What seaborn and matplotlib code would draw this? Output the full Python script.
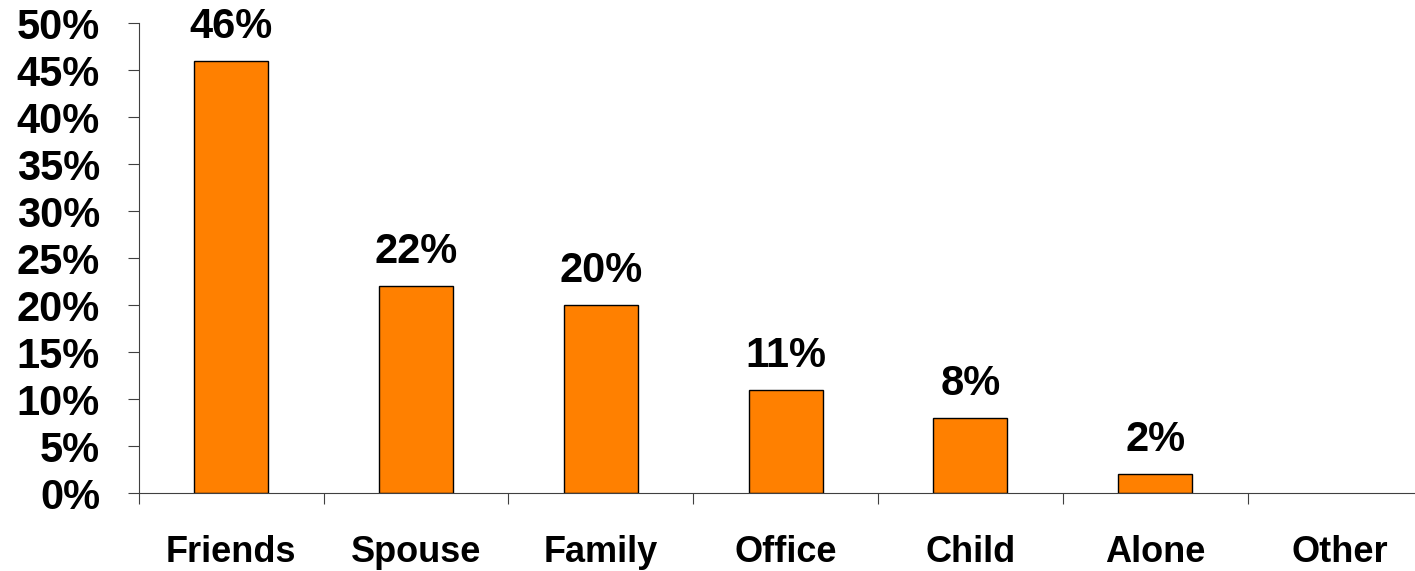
import matplotlib
matplotlib.use('Agg')
import matplotlib.pyplot as plt
import seaborn as sns
import pandas as pd
from matplotlib.ticker import FixedLocator, PercentFormatter

categories = ['Friends', 'Spouse', 'Family', 'Office', 'Child', 'Alone', 'Other']
shares = [46, 22, 20, 11, 8, 2, 0]
labels = ['46%', '22%', '20%', '11%', '8%', '2%', '']

sns.set_style('white')
plt.rcParams['font.family'] = ['Liberation Sans', 'DejaVu Sans']
plt.rcParams['font.weight'] = 'bold'
plt.rcParams['text.color'] = 'black'
plt.rcParams['xtick.color'] = 'black'
plt.rcParams['ytick.color'] = 'black'

df = pd.DataFrame({'who': categories, 'share': shares})

fig = plt.figure(figsize=(14.15, 5.71), dpi=100)
ax = fig.add_axes([0.0982, 0.1366, 0.914, 0.8231])

sns.barplot(data=df, x='who', y='share', color='#FF8000', width=0.4,
            edgecolor='black', linewidth=1, saturation=1, ax=ax)

for bar, txt in zip(ax.patches, labels):
    if bar.get_height() == 0:
        bar.set_linewidth(0)
    if txt:
        ax.annotate(txt, (bar.get_x() + bar.get_width() / 2, bar.get_height()),
                    xytext=(0, 10), textcoords='offset points',
                    ha='center', va='bottom', fontsize=30, fontweight='bold')

ax.set_xlim(-0.5, 6.5)
ax.set_ylim(0, 50)
ax.set_yticks(range(0, 51, 5))
ax.yaxis.set_major_formatter(PercentFormatter(decimals=0))
ax.xaxis.set_minor_locator(FixedLocator([i - 0.5 for i in range(8)]))
ax.set_xlabel('')
ax.set_ylabel('')

for side in ['top', 'right']:
    ax.spines[side].set_visible(False)
for side in ['left', 'bottom']:
    ax.spines[side].set_color('#404040')
    ax.spines[side].set_linewidth(0.8)

ax.tick_params(axis='y', which='major', direction='out', length=8, width=0.8,
               color='#404040', pad=20, labelsize=30, left=True)
ax.tick_params(axis='x', which='major', length=0, pad=30, labelsize=26, bottom=True)
ax.tick_params(axis='x', which='minor', direction='out', length=8, width=0.8,
               color='#404040', bottom=True)
for lab in ax.get_xticklabels() + ax.get_yticklabels():
    lab.set_fontweight('bold')

fig.savefig('out.png', dpi=100)
